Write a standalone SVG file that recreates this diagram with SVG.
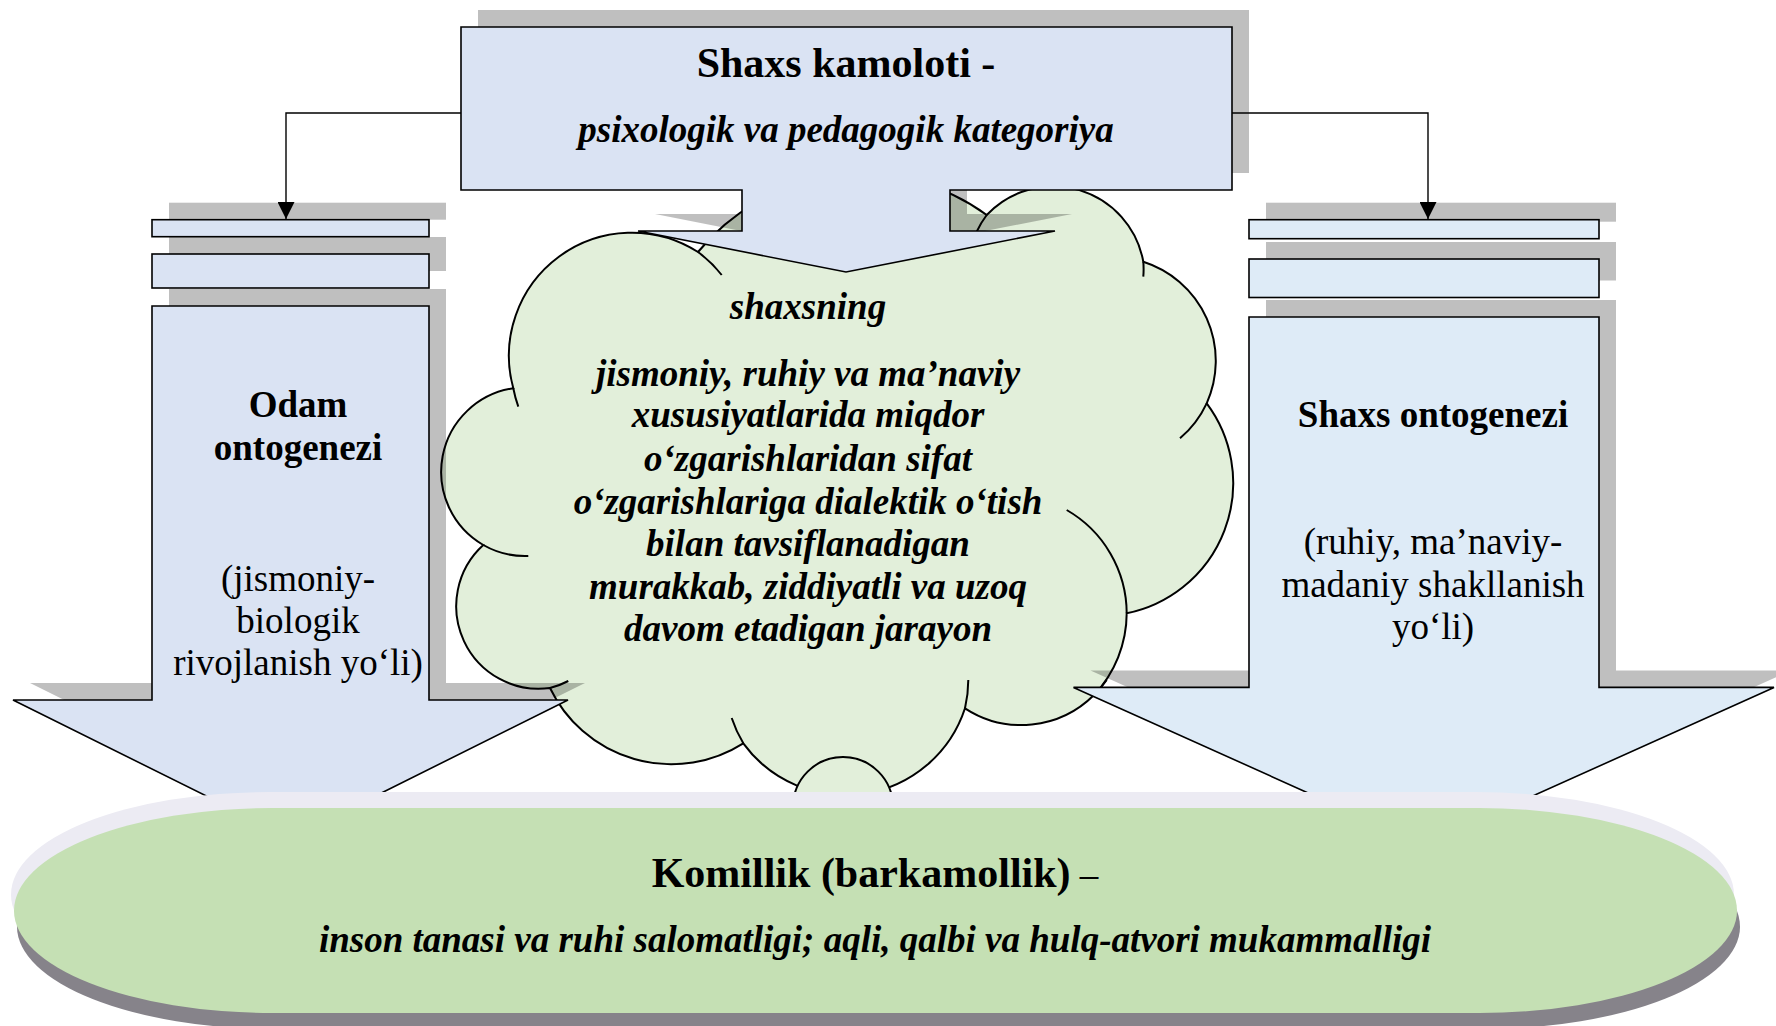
<svg xmlns="http://www.w3.org/2000/svg" xmlns:xlink="http://www.w3.org/1999/xlink" width="1776" height="1026" viewBox="0 0 1776 1026">
<style>
.shadow{fill:#000;fill-opacity:0.25;stroke:none}
.boxL{fill:#dae3f3;stroke:#000;stroke-width:1.6}
.boxR{fill:#deebf7;stroke:#000;stroke-width:1.6}
.cloud{fill:#e2efda;stroke:#000;stroke-width:2}
.tail{fill:none;stroke:#000;stroke-width:2}
.conn{fill:none;stroke:#000;stroke-width:1.4}
.t{font-family:"Liberation Serif","Times New Roman",serif;fill:#000;text-anchor:middle}
.f37{font-size:37px}
.f42{font-size:42px}
.b{font-weight:bold}
.bi{font-weight:bold;font-style:italic}
</style>
<defs>
<marker id="arr" markerUnits="userSpaceOnUse" markerWidth="17" markerHeight="17" viewBox="0 0 17 17" refX="17" refY="8.5" orient="auto">
<path d="M0,0 L17,8.5 L0,17 Z" fill="#000"/>
</marker>
<rect id="la-r1" x="152" y="219.7" width="277" height="17"/>
<rect id="la-r2" x="152" y="254" width="277" height="34"/>
<path id="la-body" d="M152,306 L429,306 L429,700 L568,700 L291,838 L13,700 L152,700 Z"/>
<rect id="ra-r1" x="1249" y="219.7" width="350" height="19"/>
<rect id="ra-r2" x="1249" y="259" width="350" height="38.5"/>
<path id="ra-body" d="M1249,317 L1599,317 L1599,687.4 L1774,687.4 L1424,845 L1073.5,687.4 L1249,687.4 Z"/>
<path id="top-shape" d="M461,27 L1232,27 L1232,190 L950,190 L950,231 L1055,231 L846,272 L638,231 L742,231 L742,190 L461,190 Z"/>
<rect id="kom-shape" width="1723" height="205" rx="258" ry="102.5"/>
</defs>

<g id="cloud">
<path class="cloud" d="M513.3,388.3 A123,123 0 0 1 698,252 A212,212 0 0 1 986.7,215 A91.5,91.5 0 0 1 1143.3,261.7 A104,104 0 0 1 1206.7,403.3 A133,133 0 0 1 1126.7,613.3 A119.7,119.7 0 0 1 1094,695 A103,103 0 0 1 965,708.3 A126,126 0 0 1 743.3,743.3 A134.5,134.5 0 0 1 550,688 A82.6,82.6 0 0 1 483.3,545 A84.5,84.5 0 0 1 513.3,388.3 Z"/>
<path class="tail" d="M513.3,388.3 A123,123 0 0 0 518.3,406.7 M483.3,545 A84.5,84.5 0 0 0 528.3,556 M550,688 A82.6,82.6 0 0 0 568.3,681 M743.3,743.3 A126,126 0 0 1 731.7,718 M965,708.3 A126,126 0 0 0 968.3,680 M1126.7,613.3 A119.7,119.7 0 0 0 1066.7,510 M1206.7,403.3 A104,104 0 0 1 1180,438.3 M1143.3,261.7 A91.5,91.5 0 0 1 1143.3,276.7 M986.7,215 A91.5,91.5 0 0 0 976.7,231.7 M698,252 A123,123 0 0 1 721.7,275 M1094,695 A103,103 0 0 0 1106.7,680"/>
<circle class="cloud" cx="843" cy="807" r="50"/>
<text class="t f37 bi" x="808" y="319">shaxsning</text>
<text class="t f37 bi" x="808" y="385.5">jismoniy, ruhiy va ma’naviy</text>
<text class="t f37 bi" x="808" y="427">xususiyatlarida miqdor</text>
<text class="t f37 bi" x="808" y="470.5">o‘zgarishlaridan sifat</text>
<text class="t f37 bi" x="808" y="514">o‘zgarishlariga dialektik o‘tish</text>
<text class="t f37 bi" x="808" y="556">bilan tavsiflanadigan</text>
<text class="t f37 bi" x="808" y="599">murakkab, ziddiyatli va uzoq</text>
<text class="t f37 bi" x="808" y="641">davom etadigan jarayon</text>
</g>

<g id="left-arrow">
<g transform="translate(17,-17)">
<use xlink:href="#la-r1" class="shadow"/>
<use xlink:href="#la-r2" class="shadow"/>
<use xlink:href="#la-body" class="shadow"/>
</g>
<use xlink:href="#la-r1" class="boxL"/>
<use xlink:href="#la-r2" class="boxL"/>
<use xlink:href="#la-body" class="boxL"/>
<text class="t f37 b" x="298" y="417">Odam</text>
<text class="t f37 b" x="298" y="460">ontogenezi</text>
<text class="t f37" x="298" y="591">(jismoniy-</text>
<text class="t f37" x="298" y="633">biologik</text>
<text class="t f37" x="298" y="675">rivojlanish yo‘li)</text>
</g>

<g id="right-arrow">
<g transform="translate(17,-17)">
<use xlink:href="#ra-r1" class="shadow"/>
<use xlink:href="#ra-r2" class="shadow"/>
<use xlink:href="#ra-body" class="shadow"/>
</g>
<use xlink:href="#ra-r1" class="boxR"/>
<use xlink:href="#ra-r2" class="boxR"/>
<use xlink:href="#ra-body" class="boxR"/>
<text class="t f37 b" x="1433" y="426.5">Shaxs ontogenezi</text>
<text class="t f37" x="1433" y="554">(ruhiy, ma’naviy-</text>
<text class="t f37" x="1433" y="597">madaniy shakllanish</text>
<text class="t f37" x="1433" y="639">yo‘li)</text>
</g>

<g id="top-box">
<use xlink:href="#top-shape" class="shadow" transform="translate(17,-17)"/>
<use xlink:href="#top-shape" class="boxL"/>
<text class="t f42 b" x="846" y="77">Shaxs kamoloti -</text>
<text class="t f37 bi" x="846" y="141.5">psixologik va pedagogik kategoriya</text>
</g>

<g id="connectors">
<path class="conn" d="M461,113 H286 V219" marker-end="url(#arr)"/>
<path class="conn" d="M1232,113 H1428 V219" marker-end="url(#arr)"/>
</g>

<g id="komillik">
<use xlink:href="#kom-shape" x="17" y="824" fill="#86838a"/>
<use xlink:href="#kom-shape" x="11" y="792" fill="#ecebf3"/>
<use xlink:href="#kom-shape" x="14" y="808" fill="#c5e0b4"/>
<text class="t b" x="875" y="887"><tspan font-size="42">Komillik (barkamollik)</tspan><tspan font-size="37" font-weight="normal"> –</tspan></text>
<text class="t f37 bi" x="875" y="951.5">inson tanasi va ruhi salomatligi; aqli, qalbi va hulq-atvori mukammalligi</text>
</g>
</svg>
